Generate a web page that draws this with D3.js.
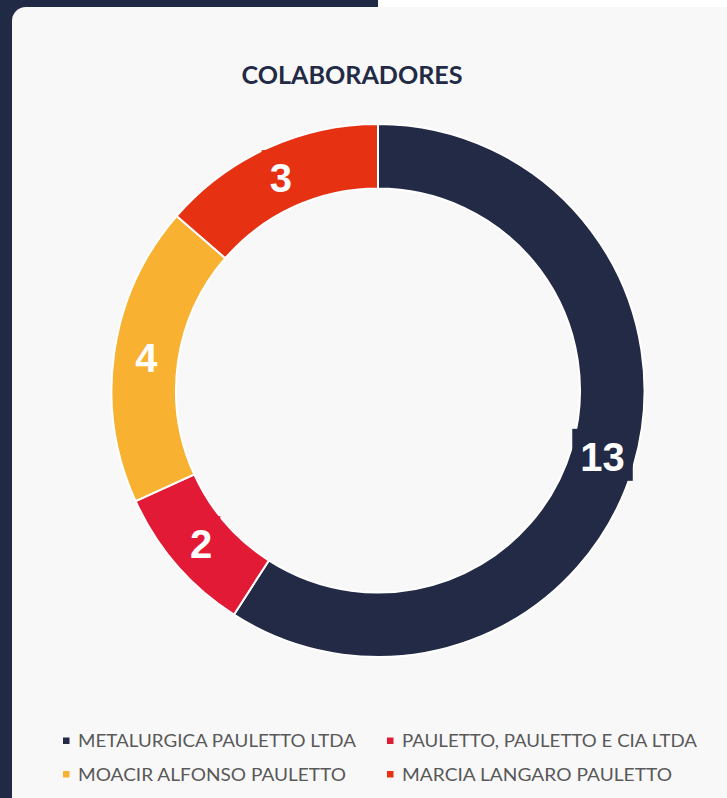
<!DOCTYPE html>
<html>
<head>
<meta charset="utf-8">
<script src="https://cdn.jsdelivr.net/npm/d3@7"></script>
<style>
    html, body { margin: 0; padding: 0; background: #212a44; overflow: hidden; }
</style>
</head>
<body>
<svg id="chart" width="727" height="798"></svg>
<script>
// dados do grafico
let categories = ["METALURGICA PAULETTO LTDA", "PAULETTO, PAULETTO E CIA LTDA", "MOACIR ALFONSO PAULETTO", "MARCIA LANGARO PAULETTO"];
let values = [13, 2, 4, 3];
let colors = ["#232a45", "#e31a36", "#f9b132", "#e63112"];

let svg = d3.select("#chart");
let width = +svg.attr("width");
let height = +svg.attr("height");

// fundo
svg.append("rect").attr("width", width).attr("height", height).attr("fill", "#212a44");
svg.append("rect").attr("x", 378).attr("y", 0).attr("width", width - 378).attr("height", 10).attr("fill", "#ffffff");
svg.append("rect")
    .attr("x", 12).attr("y", 7)
    .attr("width", width + 20).attr("height", height + 20)
    .attr("rx", 14).attr("ry", 14)
    .attr("fill", "#f8f8f8");

// titulo
svg.append("text")
    .attr("x", 352).attr("y", 84)
    .attr("text-anchor", "middle")
    .attr("font-family", "Lato, 'Liberation Sans', sans-serif")
    .attr("font-weight", "bold")
    .attr("font-size", 24)
    .attr("textLength", 221)
    .attr("lengthAdjust", "spacingAndGlyphs")
    .attr("fill", "#232a45")
    .text("COLABORADORES");

let cx = 378, cy = 390.5;
let outerR = 266.5, innerR = 202;

let pie = d3.pie().sort(null).value(function (d) { return d; });
let arc = d3.arc().innerRadius(innerR).outerRadius(outerR);
let labelArc = d3.arc().innerRadius(234).outerRadius(234);

let g = svg.append("g").attr("transform", "translate(" + cx + "," + cy + ")");
let arcs = pie(values);

g.selectAll("path")
    .data(arcs)
    .enter().append("path")
    .attr("d", arc)
    .attr("fill", function (d, i) { return colors[i]; })
    .attr("stroke", "#ffffff")
    .attr("stroke-width", 2);

// rotulos com caixa
let labels = g.selectAll("g.lbl")
    .data(arcs)
    .enter().append("g")
    .attr("class", "lbl")
    .attr("transform", function (d) {
        let c = labelArc.centroid(d);
        return "translate(" + c[0] + "," + c[1] + ")";
    });

let texts = labels.append("text")
    .attr("text-anchor", "middle")
    .attr("dy", "0.36em")
    .attr("font-family", "'Liberation Sans', Arial, sans-serif")
    .attr("font-weight", "bold")
    .attr("font-size", 40)
    .attr("fill", "#ffffff")
    .text(function (d) { return d.data; });

texts.each(function (d, i) {
    let bb = this.getBBox();
    d3.select(this.parentNode).insert("rect", "text")
        .attr("x", bb.x - 8).attr("y", bb.y - 6)
        .attr("width", bb.width + 16).attr("height", bb.height + 8)
        .attr("fill", colors[i]);
});

// legenda
let legendX = [63, 387];
let legendY = [747, 780.5];
let legendW = [278, 295, 268, 270];

let legend = svg.append("g").selectAll("g")
    .data(categories)
    .enter().append("g")
    .attr("transform", function (d, i) {
        return "translate(" + legendX[i % 2] + "," + legendY[Math.floor(i / 2)] + ")";
    });

legend.append("rect")
    .attr("x", 0).attr("y", -9.5)
    .attr("width", 6.5).attr("height", 6.5)
    .attr("fill", function (d, i) { return colors[i]; });

legend.append("text")
    .attr("x", 15).attr("y", 0)
    .attr("font-family", "Lato, 'Liberation Sans', sans-serif")
    .attr("font-size", 17.5)
    .attr("fill", "#595959")
    .attr("textLength", function (d, i) { return legendW[i]; })
    .attr("lengthAdjust", "spacingAndGlyphs")
    .text(function (d) { return d; });
</script>
</body>
</html>
